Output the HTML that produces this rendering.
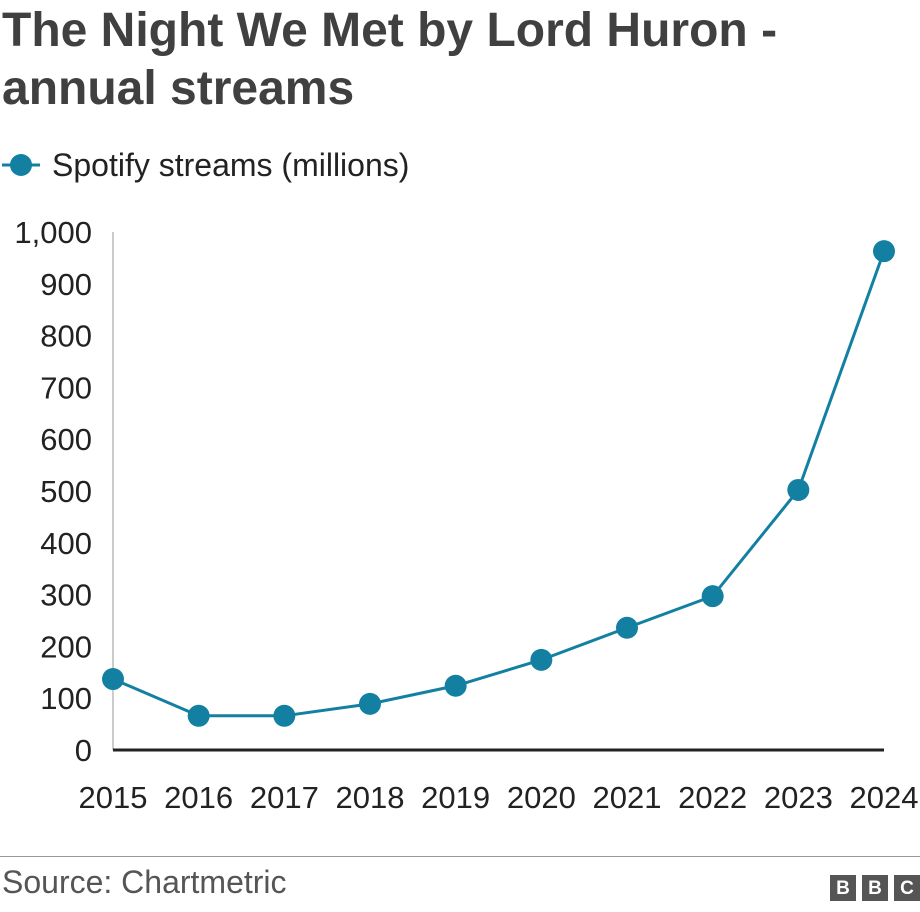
<!DOCTYPE html>
<html><head><meta charset="utf-8"><style>
body{margin:0;width:920px;height:912px;background:#fff;font-family:"Liberation Sans",Arial,sans-serif;overflow:hidden;position:relative}
.title{position:absolute;left:2px;top:2px;font-size:48px;font-weight:bold;color:#404040;line-height:58px;white-space:nowrap}
.legend{position:absolute;left:0;top:145px;height:40px}
.src{position:absolute;left:2px;top:864px;font-size:32px;color:#555}
.rule{position:absolute;left:0;top:856px;width:920px;height:1px;background:#999}
.bbc{position:absolute;top:875px;width:26px;height:26px;background:#555;color:#fff;font-weight:bold;font-size:19px;text-align:center;line-height:27px}
</style></head><body>
<div class="title">The Night We Met by Lord Huron -<br>annual streams</div>
<div class="legend">
<svg width="460" height="40" style="position:absolute;left:0;top:0"><line x1="2" y1="20" x2="40" y2="20" stroke="#1380a1" stroke-width="3"/><circle cx="21" cy="20" r="11" fill="#1380a1"/><text x="52" y="31" font-size="32" fill="#222" font-family="Liberation Sans, Arial, sans-serif">Spotify streams (millions)</text></svg>
</div>
<svg id="chart" width="920" height="850" style="position:absolute;left:0;top:0"></svg>
<div class="rule"></div>
<div class="src">Source: Chartmetric</div>
<div class="bbc" style="left:830px">B</div>
<div class="bbc" style="left:862px">B</div>
<div class="bbc" style="left:894px">C</div>
<script>
const years=["2015","2016","2017","2018","2019","2020","2021","2022","2023","2024"];
const streams=[137,66,66,89,124,174,236,297,502,963];
const yTicks=[0,100,200,300,400,500,600,700,800,900,1000];
const yTickLabels=["0","100","200","300","400","500","600","700","800","900","1,000"];
const svg=document.getElementById('chart');
const NS='http://www.w3.org/2000/svg';
const x0=113,x1=884,y0=750,y1=232;
function xs(i){return x0+(x1-x0)*i/(years.length-1);}
function ys(v){return y0-(y0-y1)*v/1000;}
function mk(t,a){const e=document.createElementNS(NS,t);for(const k in a)e.setAttribute(k,a[k]);svg.appendChild(e);return e;}
yTicks.forEach((v,i)=>{const t=mk('text',{x:92,y:ys(v)+11,'text-anchor':'end','font-size':31,fill:'#222','font-family':'Liberation Sans, Arial, sans-serif'});t.textContent=yTickLabels[i];

});
const ya=mk('line',{x1:x0,y1:y1,x2:x0,y2:y0,stroke:'#ccc','stroke-width':2});


const xa=mk('line',{x1:x0,y1:y0,x2:x1,y2:y0,stroke:'#222','stroke-width':3});


years.forEach((y,i)=>{const t=mk('text',{x:xs(i),y:808,'text-anchor':'middle','font-size':31,fill:'#222','font-family':'Liberation Sans, Arial, sans-serif'});t.textContent=y;

});
const pl=mk('polyline',{points:streams.map((v,i)=>xs(i)+','+ys(v)).join(' '),fill:'none',stroke:'#1380a1','stroke-width':3});


streams.forEach((v,i)=>{const c=mk('circle',{cx:xs(i),cy:ys(v),r:11,fill:'#1380a1'});

});
</script>
</body></html>
